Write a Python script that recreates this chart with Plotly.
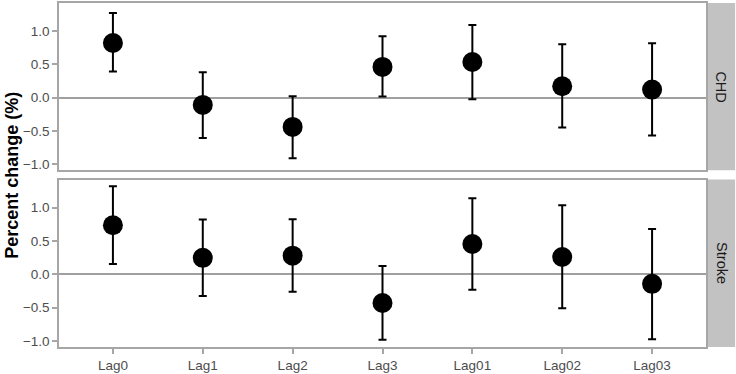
import plotly.graph_objects as go

lags = ["Lag0", "Lag1", "Lag2", "Lag3", "Lag01", "Lag02", "Lag03"]

chd_est = [0.82, -0.11, -0.44, 0.46, 0.535, 0.17, 0.12]
chd_low = [0.39, -0.605, -0.91, 0.015, -0.025, -0.45, -0.57]
chd_high = [1.27, 0.38, 0.02, 0.92, 1.09, 0.80, 0.815]

stroke_est = [0.736, 0.247, 0.28, -0.43, 0.455, 0.26, -0.143]
stroke_low = [0.153, -0.326, -0.26, -0.98, -0.23, -0.51, -0.973]
stroke_high = [1.32, 0.82, 0.825, 0.123, 1.14, 1.037, 0.68]

panels = [("CHD", chd_est, chd_low, chd_high), ("Stroke", stroke_est, stroke_low, stroke_high)]

fig = go.Figure()
domains = [[0.514, 1.0], [0.0, 0.4866]]
border = "#a6a6a6"
font = "Liberation Sans, Arial, sans-serif"

for i, (name, est, low, high) in enumerate(panels):
    xa = "x" if i == 0 else "x2"
    ya = "y" if i == 0 else "y2"
    fig.add_trace(go.Scatter(
        x=list(range(len(lags))), y=est, mode="markers",
        marker=dict(size=20, color="black"),
        error_y=dict(type="data", symmetric=False,
                     array=[h - e for h, e in zip(high, est)],
                     arrayminus=[e - l for e, l in zip(est, low)],
                     color="black", thickness=2, width=4),
        xaxis=xa, yaxis=ya, showlegend=False, name=name,
    ))

axcommon = dict(range=[-0.6, 6.6], showgrid=False, zeroline=False, showline=True,
                linecolor=border, linewidth=1.5, mirror=True,
                tickvals=list(range(len(lags))), ticktext=lags,
                tickfont=dict(family=font, size=13.5, color="#4d4d4d"))
fig.update_layout(
    xaxis=dict(**axcommon, anchor="y", showticklabels=False, ticks=""),
    xaxis2=dict(**axcommon, anchor="y2", ticks="outside", ticklen=5, tickwidth=1.5, tickcolor=border),
)
for i, key in enumerate(["yaxis", "yaxis2"]):
    fig.layout[key] = dict(
        domain=domains[i], anchor="x" if i == 0 else "x2",
        range=[-1.09, 1.42], showgrid=False,
        zeroline=True, zerolinecolor="#a0a0a0", zerolinewidth=2,
        showline=True, linecolor=border, linewidth=1.5, mirror=True,
        tickvals=[-1, -0.5, 0, 0.5, 1], tickformat=".1f",
        ticks="outside", ticklen=5, tickwidth=1.5, tickcolor=border,
        tickfont=dict(family=font, size=13.5, color="#4d4d4d"),
    )

shapes = []
annotations = []
for i, (name, *_rest) in enumerate(panels):
    d = domains[i]
    shapes.append(dict(type="rect", xref="paper", yref="paper", x0=1.0015, x1=1.045,
                       y0=d[0], y1=d[1], fillcolor="#c2c2c2", line=dict(width=0), layer="below"))
    annotations.append(dict(text=name, xref="paper", yref="paper", x=1.0235, y=(d[0] + d[1]) / 2,
                            xanchor="center", yanchor="middle",
                            showarrow=False, textangle=90,
                            font=dict(family=font, size=14.5, color="#1a1a1a")))
annotations.append(dict(text="<b>Percent change (%)</b>", xref="paper", yref="paper", x=-0.073, y=0.5,
                        xanchor="center", yanchor="middle", showarrow=False, textangle=-90,
                        font=dict(family=font, size=18, color="black")))

fig.update_layout(
    width=736, height=374,
    margin=dict(l=59, r=30, t=1, b=23),
    paper_bgcolor="white", plot_bgcolor="white",
    shapes=shapes, annotations=annotations,
)

fig.write_html("out.html", config={"displayModeBar": False},
               post_script="document.body.style.margin='0';")
